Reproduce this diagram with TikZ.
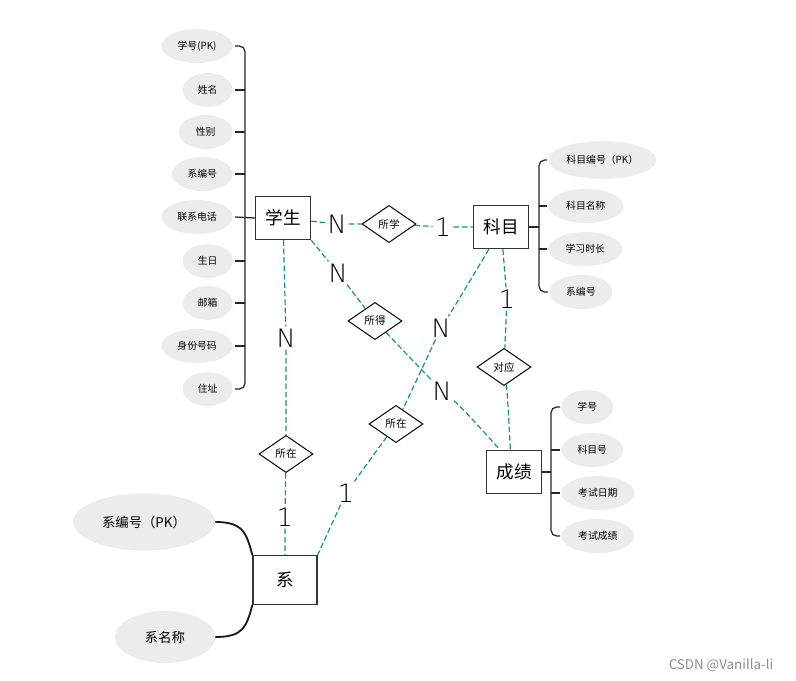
\documentclass[tikz,border=0pt]{standalone}
\usepackage{fontspec}
\setmainfont{Noto Sans CJK SC}
\newfontfamily\cardfont{DejaVu Sans ExtraLight}
\usetikzlibrary{
    shapes.geometric,
    calc,
}
\definecolor{linkteal}{RGB}{20,148,128}
\definecolor{attrgray}{RGB}{236,236,236}

\begin{document}
\begin{tikzpicture}[
        x=0.025cm, y=-0.025cm,
        entity/.style={draw=black!80, line width=0.9pt, fill=white,
            minimum width=1.38cm, minimum height=1.08cm,
            font=\fontsize{12.5}{14}\selectfont},
        relation/.style={draw, diamond, line width=0.7pt, inner sep=0pt,
            minimum width=1.35cm, minimum height=0.93cm,
            font=\fontsize{7.5}{8}\selectfont},
        attr/.style={ellipse, fill=attrgray, inner sep=0pt,
            minimum height=0.85cm, font=\fontsize{7}{8}\selectfont},
        bigattr/.style={attr, font=\fontsize{9.5}{11}\selectfont},
        card/.style={inner sep=1.5pt, font=\cardfont\fontsize{18}{18}\selectfont},
        link/.style={draw=linkteal, line width=0.85pt,
            dash pattern=on 4pt off 2pt},
        tree/.style={draw=black!85, line width=0.9pt, rounded corners=4pt},
    ]
    \useasboundingbox (0,0) rectangle (796,681);

    % entities
    \node[entity] (stu) at (283,218) {学生};
    \node[entity] (kemu) at (501,227) {科目};
    \node[entity] (chengji) at (514,472) {成绩};
    \node[entity, minimum width=1.6cm, minimum height=1.22cm] (xi) at (285,580) {系};

    % relations
    \node[relation] (suoxue) at (389,224) {所学};
    \node[relation] (suode) at (375,321) {所得};
    \node[relation] (zaiA) at (286,454) {所在};
    \node[relation] (zaiB) at (396,424) {所在};
    \node[relation] (duiying) at (504,367) {对应};

    % cardinalities
    \node[card] (c1) at (337,224) {N};
    \node[card] (c2) at (443,227) {1};
    \node[card] (c3) at (338,273) {N};
    \node[card] (c4) at (286,338) {N};
    \node[card] (c5) at (285,517) {1};
    \node[card] (c6) at (441,328) {N};
    \node[card] (c7) at (346,493) {1};
    \node[card] (c8) at (442,391) {N};
    \node[card] (c9) at (507,299) {1};

    \draw[link] (stu) -- (c1) -- (suoxue) -- (c2) -- (kemu);
    \draw[link] (stu.south east) -- (c3) -- (suode) -- (c8);
    \draw[link] (c8) .. controls +(22,18) and +(-14,-22) .. (chengji);
    \draw[link] (stu) -- (c4) -- (zaiA) -- (c5) -- (xi);
    \draw[link] (kemu) .. controls +(-12,22) and +(14,-22) .. (c6);
    \draw[link] (c6) -- (zaiB) -- (c7) -- (xi.north east);
    \draw[link] (kemu) -- (c9) -- (duiying);
    \draw[link] (duiying) .. controls +(4,30) and +(-4,-25) .. (chengji);

    % attributes of 学生
    \node[attr, minimum width=1.78cm, anchor=east] (s1) at (233,46) {学号(PK)};
    \node[attr, minimum width=1.25cm, anchor=east] (s2) at (233,90) {姓名};
    \node[attr, minimum width=1.35cm, anchor=east] (s3) at (233,132) {性别};
    \node[attr, minimum width=1.52cm, anchor=east] (s4) at (233,174) {系编号};
    \node[attr, minimum width=1.78cm, anchor=east] (s5) at (233,217) {联系电话};
    \node[attr, minimum width=1.25cm, anchor=east] (s6) at (233,261) {生日};
    \node[attr, minimum width=1.25cm, anchor=east] (s7) at (233,303) {邮箱};
    \node[attr, minimum width=1.78cm, anchor=east] (s8) at (233,346) {身份号码};
    \node[attr, minimum width=1.25cm, anchor=east] (s9) at (233,389) {住址};

    \draw[tree] ($(s1.east)+(2,0)$) -| ($(s9.east)+(12,0)$) -- ($(s9.east)+(2,0)$);
    \foreach \i in {2,3,4,6,7,8}
        \draw[tree] ($(s\i.east)+(2,0)$) -- ++(10,0);
    \draw[tree] ($(s5.east)+(2,0)$) -- (stu.west);

    % attributes of 科目
    \node[attr, minimum width=2.7cm, minimum height=0.95cm, anchor=west] (k1) at (548,160) {科目编号（PK）};
    \node[attr, minimum width=1.88cm, anchor=west] (k2) at (548,206) {科目名称};
    \node[attr, minimum width=1.85cm, anchor=west] (k3) at (548,249) {学习时长};
    \node[attr, minimum width=1.58cm, anchor=west] (k4) at (549,292) {系编号};

    \coordinate (kspine) at (539,227);
    \draw[tree] ($(k1.west)+(-1,0)$) -| ($(k4.west)+(-10,0)$) -- ($(k4.west)+(-1,0)$);
    \foreach \i in {2,3}
        \draw[tree] ($(k\i.west)+(-1,0)$) -- ++(-8,0);
    \draw[tree] (kemu.east) -- (kspine);

    % attributes of 成绩
    \node[attr, minimum width=1.3cm, anchor=west] (g1) at (561,407) {学号};
    \node[attr, minimum width=1.55cm, anchor=west] (g2) at (561,450) {科目号};
    \node[attr, minimum width=1.83cm, anchor=west] (g3) at (561,493) {考试日期};
    \node[attr, minimum width=1.83cm, anchor=west] (g4) at (561,536) {考试成绩};

    \coordinate (gspine) at (551,472);
    \draw[tree] ($(g1.west)+(-1,0)$) -| ($(g4.west)+(-10,0)$) -- ($(g4.west)+(-1,0)$);
    \foreach \i in {2,3}
        \draw[tree] ($(g\i.west)+(-1,0)$) -- ++(-9,0);
    \draw[tree] (chengji.east) -- (gspine);

    % attributes of 系
    \node[bigattr, minimum width=3.55cm, minimum height=1.43cm] (xa) at (144,522) {系编号（PK）};
    \node[bigattr, minimum width=2.5cm, minimum height=1.3cm] (xb) at (165,637) {系名称};

    \draw[black!90, line width=1.3pt] (xa.east) .. controls +(28,0) and +(-6,-22) .. (xi.north west);
    \draw[black!90, line width=1.3pt] (xb.east) .. controls +(28,0) and +(-6,22) .. (xi.south west);

    \node[text=black!45, font=\fontsize{9.5}{11}\selectfont] (mark) at (721,665) {CSDN @Vanilla-li};
\end{tikzpicture}
\end{document}
